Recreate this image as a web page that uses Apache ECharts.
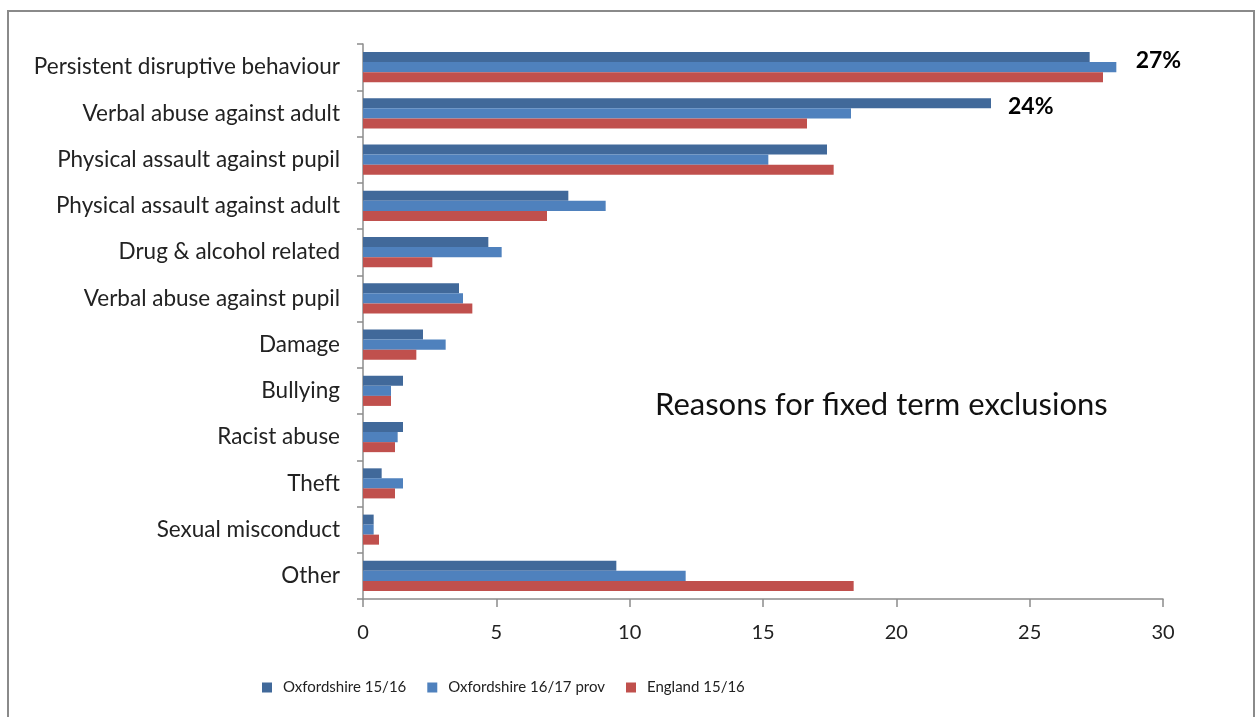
<!DOCTYPE html>
<html>
<head>
<meta charset="utf-8">
<script src="https://cdn.jsdelivr.net/npm/echarts@6/dist/echarts.min.js"></script>
<style>
  html, body { margin: 0; padding: 0; background: #ffffff; }
  #chart { width: 1255px; height: 717px; }
</style>
</head>
<body>
<div id="chart"></div>
<script>
// Reasons for fixed term exclusions (% of exclusions)
const categories = [
  'Persistent disruptive behaviour',
  'Verbal abuse against adult',
  'Physical assault against pupil',
  'Physical assault against adult',
  'Drug & alcohol related',
  'Verbal abuse against pupil',
  'Damage',
  'Bullying',
  'Racist abuse',
  'Theft',
  'Sexual misconduct',
  'Other'
];
const seriesNames = ['Oxfordshire 15/16', 'Oxfordshire 16/17 prov', 'England 15/16'];
const oxon1516 = [27.25, 23.55, 17.4, 7.7, 4.7, 3.6, 2.25, 1.5, 1.5, 0.7, 0.4, 9.5];
const oxon1617 = [28.25, 18.3, 15.2, 9.1, 5.2, 3.75, 3.1, 1.05, 1.3, 1.5, 0.4, 12.1];
const england1516 = [27.75, 16.65, 17.65, 6.9, 2.6, 4.1, 2.0, 1.05, 1.2, 1.2, 0.6, 18.4];
const xTicks = [0, 5, 10, 15, 20, 25, 30];
// categories whose Oxfordshire 15/16 bar carries a percentage label
const labelledIdx = [0, 1];

const FONT = 'Lato, "Open Sans", sans-serif';
const colors = ['#41699A', '#4F81BD', '#C0504D'];

// ECharts draws category axes bottom-up; reverse so the first category is on top
const cats = categories.slice().reverse();
const rev = a => a.slice().reverse();
const n = categories.length;

const labelDist = [46, 17];
const firstSeriesData = rev(oxon1516).map((v, i) => {
  const orig = n - 1 - i;
  const k = labelledIdx.indexOf(orig);
  if (k < 0) return v;
  return {
    value: v,
    label: {
      show: true,
      position: 'right',
      distance: labelDist[k],
      offset: [0, 3],
      formatter: p => Math.round(p.value) + '%',
      fontFamily: FONT,
      fontSize: 23,
      fontWeight: 'bold',
      color: '#000'
    }
  };
});

const chart = echarts.init(document.getElementById('chart'), null, { renderer: 'canvas' });
const axisGrey = '#8c8c8c';

chart.setOption({
  animation: false,
  backgroundColor: '#ffffff',
  textStyle: { fontFamily: FONT },
  graphic: [
    {
      type: 'rect',
      shape: { x: 8, y: 11, width: 1246, height: 720 },
      style: { fill: 'none', stroke: '#8a8a8a', lineWidth: 2 },
      silent: true
    },
    {
      type: 'text',
      left: 655,
      top: 389,
      style: {
        text: 'Reasons for fixed term exclusions',
        font: '31px ' + FONT,
        fill: '#111'
      }
    }
  ],
  grid: { left: 363, right: 92, top: 44, bottom: 118, containLabel: false },
  legend: {
    data: seriesNames,
    left: 257,
    top: 675,
    icon: 'rect',
    itemWidth: 10,
    itemHeight: 10,
    itemGap: 21,
    textStyle: { fontFamily: FONT, fontSize: 15, color: '#222', padding: [0, 0, 0, 6] }
  },
  xAxis: {
    type: 'value',
    min: 0,
    max: 30,
    interval: 5,
    axisLine: { show: true, lineStyle: { color: axisGrey, width: 1.5 } },
    axisTick: { show: true, length: 8, lineStyle: { color: axisGrey, width: 1.5 } },
    splitLine: { show: false },
    axisLabel: {
      fontFamily: FONT, fontSize: 20, color: '#222', margin: 24,
      formatter: v => (xTicks.indexOf(v) >= 0 ? String(v) : '')
    }
  },
  yAxis: {
    type: 'category',
    data: cats,
    axisLine: { show: true, lineStyle: { color: axisGrey, width: 1.5 } },
    axisTick: { show: true, length: 6, lineStyle: { color: axisGrey, width: 1.5 } },
    axisLabel: { fontFamily: FONT, fontSize: 22.5, color: '#222', margin: 23, padding: [4, 0, 0, 0] }
  },
  series: [
    {
      name: seriesNames[0], type: 'bar', data: firstSeriesData,
      itemStyle: { color: colors[0] }, barGap: '0%', barCategoryGap: '35%'
    },
    {
      name: seriesNames[1], type: 'bar', data: rev(oxon1617),
      itemStyle: { color: colors[1] }, barGap: '0%', barCategoryGap: '35%'
    },
    {
      name: seriesNames[2], type: 'bar', data: rev(england1516),
      itemStyle: { color: colors[2] }, barGap: '0%', barCategoryGap: '35%'
    }
  ]
});
</script>
</body>
</html>
